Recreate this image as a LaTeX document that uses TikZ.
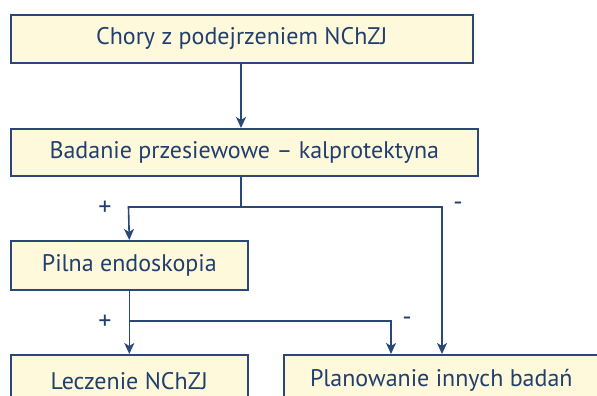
\documentclass[tikz,border=0pt]{standalone}
\usepackage{fontspec}
\setmainfont{PT Sans}
\usetikzlibrary{arrows.meta}
\definecolor{boxfill}{HTML}{FFF9DC}
\definecolor{navy}{HTML}{2A4777}
\definecolor{txt}{HTML}{213F6E}
\begin{document}
\begin{tikzpicture}[x=1pt,y=-1pt,
 box/.style={draw=navy, fill=boxfill, line width=1.6pt, inner sep=0pt, anchor=north west, text=txt, font=\fontsize{24}{28}\selectfont},
 lbl/.style={text=txt, font=\fontsize{26}{30}\selectfont, inner sep=0pt},
 conn/.style={draw=navy, line width=1.6pt},
 arr/.style={conn, -{Stealth[length=11pt,width=10pt,inset=3pt]}}]
\useasboundingbox (0,0) rectangle (597,396);
\clip (0,0) rectangle (597,396);
\node[box, minimum width=462pt, minimum height=48pt] (b1) at (10,14) {Chory z podejrzeniem NChZJ};
\node[box, minimum width=467pt, minimum height=47pt] (b2) at (10,128) {Badanie przesiewowe – kalprotektyna};
\node[box, minimum width=237pt, minimum height=49pt] (b3) at (10,240) {Pilna endoskopia};
\node[box, minimum width=237pt, minimum height=52pt] (b4) at (10,354) {Leczenie NChZJ};
\node[box, minimum width=345pt, minimum height=52pt] (b5) at (283,354) {\hspace*{-30pt}Planowanie innych badań};
\coordinate (s1) at (241,207);
\coordinate (l1) at (128.5,207);
\coordinate (r1) at (442,207);
\coordinate (s2) at (128.5,321);
\coordinate (r2) at (391,321);
\draw[arr] (b1.south -| s1) -- (b2.north -| s1);
\draw[conn] (b2.south -| s1) -- (s1);
\draw[arr] (s1) -- (l1) -- (b3.north);
\draw[arr] (s1) -- (r1) -- (r1 |- b5.north);
\draw[arr] (b3.south) -- (b4.north);
\draw[arr] (s2) -- (r2) -- (r2 |- b5.north);
\node[lbl] (p1) at (105,208) {+};
\node[lbl] (p2) at (105,322) {+};
\node[lbl] (m1) at (458,206) {-};
\node[lbl] (m2) at (407,321) {-};
\end{tikzpicture}
\end{document}
